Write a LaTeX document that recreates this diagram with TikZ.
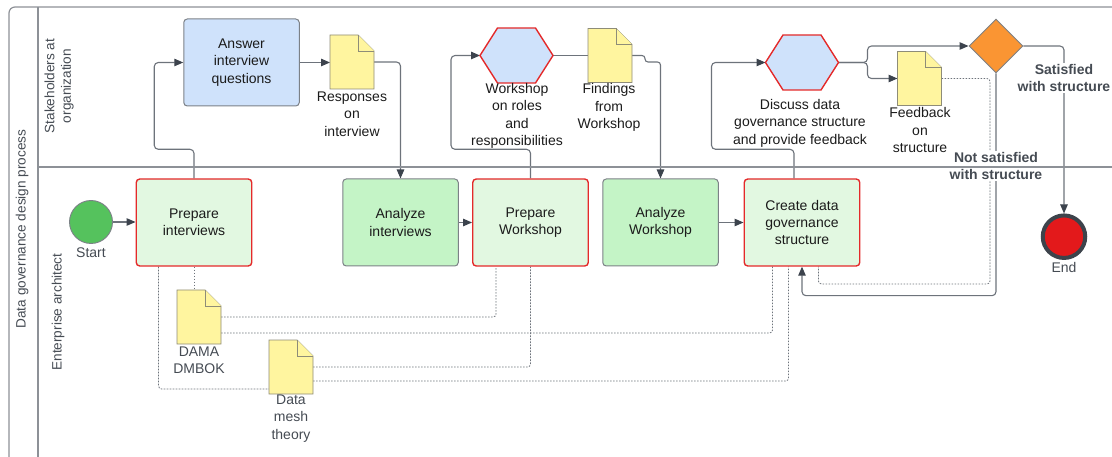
\documentclass[tikz,border=0pt]{standalone}
\usepackage{fontspec}
\setmainfont{Liberation Sans}
\usetikzlibrary{arrows.meta,calc,shapes.geometric}

\definecolor{framegray}{HTML}{8D9197}
\definecolor{linegray}{HTML}{6D737B}
\definecolor{tipgray}{HTML}{3C434D}
\definecolor{boxgray}{HTML}{7C8187}
\definecolor{redb}{HTML}{E42A2A}
\definecolor{lgreen}{HTML}{E2F8E1}
\definecolor{mgreen}{HTML}{C4F4C6}
\definecolor{lblue}{HTML}{CFE2FB}
\definecolor{paper}{HTML}{FFF59F}
\definecolor{paperedge}{HTML}{8E8C78}
\definecolor{startg}{HTML}{55C25D}
\definecolor{endr}{HTML}{E3191B}
\definecolor{endring}{HTML}{3D434B}
\definecolor{orangec}{HTML}{FA9533}
\definecolor{ink}{HTML}{1B1B1B}
\definecolor{softink}{HTML}{454B53}

\newcommand\boxfont{\fontsize{14}{17.4}\selectfont}
\newcommand\lanefont{\fontsize{13.6}{16.5}\selectfont}

\pgfdeclarelayer{bg}
\pgfdeclarelayer{fg}
\pgfsetlayers{bg,main,fg}

% document shape: an invisible box plus its folded outline
\newcommand\paperat[3]{%
  \node[docbox] (#1) at (#2,#3) {};
  \draw[docline] (#1.south west) -- (#1.north west) -- ($(#1.north east)+(-16,0)$)
    -- ($(#1.north east)+(0,16)$) -- (#1.south east) -- cycle;
  \draw[docline] ($(#1.north east)+(-16,0)$) -- ($(#1.north east)+(-16,16)$)
    -- ($(#1.north east)+(0,16)$);}

% hexagonal activity: an invisible box plus its outline
\newcommand\hexat[3]{%
  \node[hexbox] (#1) at (#2,#3) {};
  \draw[hexline] (#1.west) -- ($(#1.north west)+(17.5,0)$) -- ($(#1.north east)+(-17.5,0)$)
    -- (#1.east) -- ($(#1.south east)+(-17.5,0)$) -- ($(#1.south west)+(17.5,0)$) -- cycle;}

\tikzset{
  poolline/.style={draw=framegray, line width=1.2pt},
  task/.style={draw=boxgray, line width=1pt, rounded corners=3.5pt,
    minimum width=115.5pt, minimum height=87pt, inner sep=0pt,
    align=center, font=\boxfont, text=ink},
  keytask/.style={task, draw=redb, line width=1.4pt, fill=lgreen},
  docbox/.style={minimum width=44pt, minimum height=54pt, inner sep=0pt, outer sep=0pt},
  docline/.style={draw=paperedge, fill=paper, line width=0.9pt, line join=miter},
  hexbox/.style={minimum width=73pt, minimum height=55pt, inner sep=0pt, outer sep=0pt},
  hexline/.style={draw=redb, fill=lblue, line width=1.4pt, line join=miter},
  lbl/.style={align=center, font=\boxfont, text=ink, inner sep=0pt},
  greylbl/.style={align=center, font=\boxfont, text=softink, inner sep=0pt},
  cond/.style={align=center, font=\boxfont\bfseries, text=softink, fill=white, inner sep=1.5pt},
  flow/.style={draw=linegray, line width=1.1pt, rounded corners=4pt,
    -{Triangle[length=9pt,width=7.5pt,fill=tipgray,color=tipgray]}},
  plainflow/.style={draw=linegray, line width=1.1pt, rounded corners=4pt},
  assoc/.style={draw=linegray, line width=0.8pt, dash pattern=on 1.6pt off 1.4pt, rounded corners=3pt}
}

\begin{document}
\begin{tikzpicture}[x=1pt,y=-1pt]
\useasboundingbox (0,0) rectangle (1112,457);
\clip (0,0) rectangle (1112,457);

% ---------- Enterprise architect lane ----------
\node[circle, draw=boxgray, line width=0.9pt, fill=startg, minimum size=43pt, inner sep=0pt] (start) at (91,222) {};
\node[greylbl] (startlbl) at (91,253) {Start};

\node[keytask] (prepint) at (194,222.5) {Prepare\\interviews};
\node[task, fill=mgreen] (anaint) at (400.5,222.5) {Analyze\\interviews};
\node[keytask] (prepws) at (530.5,222.5) {Prepare\\Workshop};
\node[task, fill=mgreen] (anaws) at (660.5,222.5) {Analyze\\Workshop};
\node[keytask] (create) at (802,222.5) {Create data\\governance\\structure};

\node[circle, draw=endring, line width=4pt, fill=endr, minimum size=42.5pt, inner sep=0pt] (end) at (1064,236.7) {};
\node[greylbl] (endlbl) at (1064,267.5) {End};

\paperat{dama}{199}{317}
\node[greylbl] (damalbl) at (199,360.5) {DAMA\\DMBOK};
\paperat{mesh}{291}{367}
\node[greylbl] (meshlbl) at (291,418.5) {Data\\mesh\\theory};

% ---------- Stakeholders lane ----------
\node[task, fill=lblue] (answer) at (241.5,62.5) {Answer\\interview\\questions};
\paperat{resp}{352}{62}
\node[lbl] (resplbl) at (352,114) {Responses\\on\\interview};

\hexat{ws}{516.5}{55.5}
\node[lbl] (wslbl) at (517,116) {Workshop\\on roles\\and\\responsibilities};
\paperat{find}{610}{55.5}
\node[lbl] (findlbl) at (609,107.5) {Findings\\from\\Workshop};

\hexat{disc}{802}{62.5}
\node[lbl] (disclbl) at (800,123) {Discuss data\\governance structure\\and provide feedback};
\paperat{fb}{919.5}{78.5}
\node[lbl] (fblbl) at (920,130) {Feedback\\on\\structure};

\node[diamond, shape aspect=1, draw=boxgray, line width=0.9pt, fill=orangec, minimum width=54pt, minimum height=54pt, inner sep=0pt] (dec) at (996,46) {};

% ---------- sequence flows ----------
\begin{pgfonlayer}{bg}
\draw[flow] (start.east) -- (start.east -| prepint.west);
\draw[flow] (prepint.north) -- ++(0,-29) -| ($(answer.west)+(-29,0)$) -- (answer.west);
\draw[flow] (answer.east) -- (answer.east -| resp.west);
\draw[flow] (resp.east) -| (anaint.north);
\draw[flow] (anaint.east) -- (prepws.west);
\draw[flow] (prepws.north) -- ++(0,-29) -| ($(ws.west)+(-29,0)$) -- (ws.west);
\draw[plainflow, line width=1.6pt] (ws.east) -- (find.west);
\draw[flow, rounded corners=3pt] (find.east) -- ++(13,0) -- ++(0,6.5) -| (anaws.north);
\draw[flow] (anaws.east) -- (create.west);
\draw[flow] ($(create.north)+(-8,0)$) -- ++(0,-29) -| ($(disc.west)+(-54,0)$) -- (disc.west);
\draw[flow] (disc.east) -- ++(29,0) |- (dec.west);
\draw[flow] (disc.east) -- ++(29,0) |- (fb.west);
\draw[flow] (dec.east) -| (end.north);
\draw[flow] (dec.south) |- ($(create.south)+(0,29)$) -- (create.south);

% ---------- associations ----------
\draw[assoc] (fb.east) -| ++(48.5,205.5) -| ($(create.south east)+(-42,0)$);
\draw[assoc] (prepint.south) -- (prepint.south |- dama.north);
\draw[assoc] ($(prepint.south west)+(23,0)$) |- ($(mesh.south west)+(0,-5)$);
\draw[assoc] (dama.east) -| ($(prepws.south west)+(24,0)$);
\draw[assoc] ($(dama.east)+(0,16)$) -| ($(create.south west)+(29,0)$);
\draw[assoc] (mesh.east) -| (prepws.south);
\draw[assoc] ($(mesh.east)+(0,14)$) -| ($(create.south west)+(45,0)$);
\end{pgfonlayer}

% ---------- gateway conditions ----------
\node[cond] (satlbl) at (1064,78) {Satisfied\\with structure};
\node[cond] (notsatlbl) at (996,166) {Not satisfied\\with structure};

% ---------- pool and lanes ----------
\begin{pgfonlayer}{fg}
\draw[poolline, rounded corners=6pt] (9,470) |- (1125,7);
\draw[poolline] (38,7) -- (38,470);
\draw[poolline] (38,167) -- (1125,167);
\end{pgfonlayer}
\node[rotate=90, font=\lanefont, text=softink, inner sep=0pt] (pooltitle) at (22,229) {Data governance design process};
\node[rotate=90, align=center, font=\lanefont, text=softink, inner sep=0pt] (lane1) at (59,86) {Stakeholders at\\organization};
\node[rotate=90, font=\lanefont, text=softink, inner sep=0pt] (lane2) at (58,312) {Enterprise architect};
\end{tikzpicture}
\end{document}
